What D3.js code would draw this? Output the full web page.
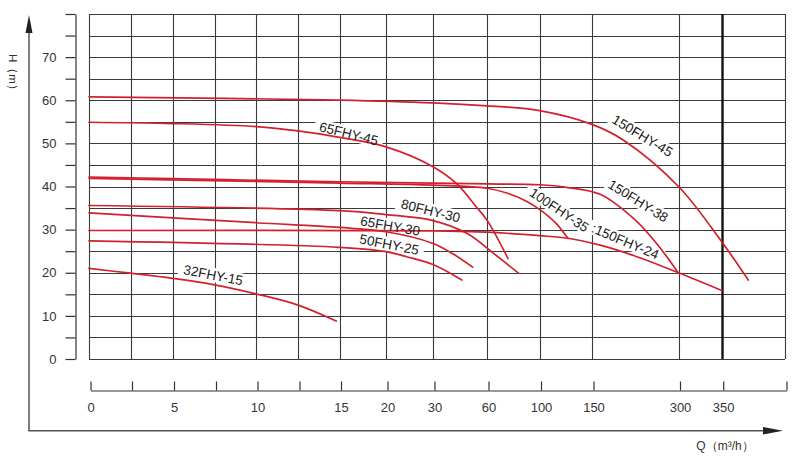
<!DOCTYPE html>
<html>
<head>
<meta charset="utf-8">
<script src="https://cdn.jsdelivr.net/npm/d3@7"></script>
<style>
  html, body { margin: 0; padding: 0; background: #fff; }
  svg { display: block; font-family: "Liberation Sans", Arial, sans-serif; }
</style>
</head>
<body>
<script>
// ---------- DATA ----------
const qTicks      = [0, 2.5, 5, 7.5, 10, 12.5, 15, 20, 30, 60, 100, 150, 300, 350, 400];
const qTickLabels = ["0", "", "5", "", "10", "", "15", "20", "30", "60", "100", "150", "300", "350", ""];
const hTicks      = [0, 5, 10, 15, 20, 25, 30, 35, 40, 45, 50, 55, 60, 65, 70, 75, 80];
const hTickLabels = ["0", "", "10", "", "20", "", "30", "", "40", "", "50", "", "60", "", "70", "", ""];

// [Q (m3/h), H (m)]
const curve150FHY45 = [[0,60.8],[15,60.05],[30,59.4],[60,58.7],[100,57.6],[150,54.4],[204,50.8],[300,40.0],[350,27.2],[371,18.3]];
const curve65FHY45  = [[0,54.9],[5,54.6],[10,53.9],[12.5,52.9],[15,51.4],[20,49.2],[30,44.6],[43,40.7],[54,35.3],[60,32.2],[76,23.3]];
const curve150FHY38 = [[0,42.2],[15,41.1],[30,40.8],[60,40.6],[100,40.4],[126,39.8],[164,38.2],[222,32.6],[262,26.8],[300,19.9]];
const curve100FHY35 = [[0,41.9],[15,40.8],[30,40.3],[60,39.6],[75,38.5],[90,36.6],[100,34.7],[116,31.4],[127,28.0]];
const curve80FHY30  = [[0,35.6],[15,34.4],[20,33.5],[30,32.1],[49,29.1],[65,24.5],[84,19.9]];
const curve65FHY30  = [[0,33.9],[10,31.6],[15,30.5],[20,29.5],[30,26.8],[41,24.4],[52,21.3]];
const curve50FHY25  = [[0,27.4],[15,25.9],[20,24.9],[24.4,23.7],[30,21.9],[46,18.3]];
const curve150FHY24 = [[0,29.8],[30,29.7],[60,29.4],[100,28.6],[127,28.0],[164,26.4],[222,24.0],[300,20.0],[350,15.9]];
const curve32FHY15  = [[0,21.0],[2.5,19.9],[5,18.7],[7.5,17.2],[10,15.1],[12.5,12.5],[14.8,8.8]];

const curves = [curve150FHY45, curve65FHY45, curve150FHY38, curve100FHY35, curve80FHY30,
                curve65FHY30, curve50FHY25, curve150FHY24, curve32FHY15];

// label text, anchor [Q, H], angle
const labelTexts  = ["65FHY-45", "80FHY-30", "65FHY-30", "50FHY-25", "32FHY-15", "150FHY-45", "150FHY-38", "100FHY-35", ":150FHY-24"];
const labelQ      = [16.0, 29.5, 20.9, 20.7, 7.43, 237.6, 230.3, 118.8, 207.7];
const labelH      = [52.3, 34.4, 30.9, 26.6, 19.5, 51.8, 36.7, 34.6, 27.3];
const labelAngle  = [14, 14, 10, 11, 11, 31, 32, 34, 23];

// ---------- CHART ----------
const W = 800, H = 465;
const svg = d3.select("body").append("svg").attr("width", W).attr("height", H);

const x = d3.scaleLinear()
  .domain(qTicks)
  .range([89, 130.5, 172.5, 214.5, 256, 298, 339.5, 386, 433, 487, 539.5, 592, 678.5, 721.7, 785]);
const y = d3.scaleLinear().domain([0, 80]).range([359, 14]);

const gridColor = "#3a3a3a";

// grid
const grid = svg.append("g");
grid.selectAll("line.h").data(hTicks).join("line")
  .attr("x1", x(0)).attr("x2", x(400))
  .attr("y1", d => Math.round(y(d)) + 0.5).attr("y2", d => Math.round(y(d)) + 0.5)
  .attr("stroke", gridColor).attr("stroke-width", 1.1);
grid.selectAll("line.v").data(qTicks).join("line")
  .attr("x1", d => Math.round(x(d)) + 0.5).attr("x2", d => Math.round(x(d)) + 0.5)
  .attr("y1", y(80)).attr("y2", y(0))
  .attr("stroke", d => d === 350 ? "#111" : gridColor)
  .attr("stroke-width", d => d === 350 ? 2.4 : 1.1);

// label background boxes (cut the grid like the reference)
const labelData = labelTexts.map((t, i) => ({ t, q: labelQ[i], h: labelH[i], a: labelAngle[i] }));
const bgLayer = svg.append("g");
const curveLayer = svg.append("g");
const textLayer = svg.append("g");

const labelGroups = textLayer.selectAll("g").data(labelData).join("g")
  .attr("transform", d => `translate(${x(d.q)},${y(d.h)}) rotate(${d.a})`);
labelGroups.append("text")
  .attr("text-anchor", "middle")
  .attr("dy", "0.36em")
  .attr("font-size", 13.5)
  .attr("fill", "#1a1a1a")
  .text(d => d.t);

labelGroups.each(function(d) {
  const len = this.querySelector("text").getComputedTextLength();
  bgLayer.append("rect")
    .attr("transform", `translate(${x(d.q)},${y(d.h)}) rotate(${d.a})`)
    .attr("x", -len / 2 - 5).attr("y", -7)
    .attr("width", len + 10).attr("height", 14)
    .attr("fill", "#fff");
});

// curves
const line = d3.line().x(d => x(d[0])).y(d => y(d[1])).curve(d3.curveCatmullRom.alpha(0.5));
curveLayer.selectAll("path").data(curves).join("path")
  .attr("d", line)
  .attr("fill", "none")
  .attr("stroke", "#d3202e")
  .attr("stroke-width", 1.7)
  .attr("stroke-linecap", "round");

// left tick axis
const yAxis = d3.axisLeft(y)
  .tickValues(hTicks)
  .tickFormat(d => hTickLabels[hTicks.indexOf(d)])
  .tickSize(10).tickSizeOuter(0).tickPadding(9);
const gy = svg.append("g").attr("transform", "translate(75.5,0)").call(yAxis);
gy.selectAll("path, line").attr("stroke", "#333").attr("stroke-width", 1.2);
gy.selectAll("text").attr("font-size", 13).attr("fill", "#333")
  .attr("font-family", "'Liberation Sans', Arial, sans-serif");

// bottom tick axis
const xAxis = d3.axisBottom(x)
  .tickValues(qTicks)
  .tickFormat(d => qTickLabels[qTicks.indexOf(d)])
  .tickSize(-9).tickSizeOuter(0).tickPadding(12);
const gx = svg.append("g").attr("transform", "translate(1.5,390.5)").call(xAxis);
gx.selectAll("path, line").attr("stroke", "#333").attr("stroke-width", 1.2);
gx.selectAll("text").attr("font-size", 13).attr("fill", "#333")
  .attr("font-family", "'Liberation Sans', Arial, sans-serif");

// arrow axes
const axisCol = "#555";
svg.append("line").attr("x1", 29).attr("x2", 29).attr("y1", 30).attr("y2", 431)
  .attr("stroke", axisCol).attr("stroke-width", 1.5);
svg.append("path").attr("d", "M29,15 L25.5,33 L32.5,33 Z").attr("fill", "#222");
svg.append("line").attr("x1", 28.3).attr("x2", 768).attr("y1", 430.7).attr("y2", 430.7)
  .attr("stroke", axisCol).attr("stroke-width", 1.5);
svg.append("path").attr("d", "M783,430.7 L763,427 L763,434.4 Z").attr("fill", "#222");

// axis titles
svg.append("text")
  .attr("transform", "translate(13,75) rotate(90)")
  .attr("text-anchor", "middle").attr("dy", "0.35em")
  .attr("font-size", 11.5).attr("fill", "#333")
  .text("H（m）");
svg.append("text")
  .attr("x", 725).attr("y", 446).attr("dy", "0.35em")
  .attr("text-anchor", "middle")
  .attr("font-size", 12).attr("fill", "#333")
  .text("Q（m³/h）");
</script>
</body>
</html>
